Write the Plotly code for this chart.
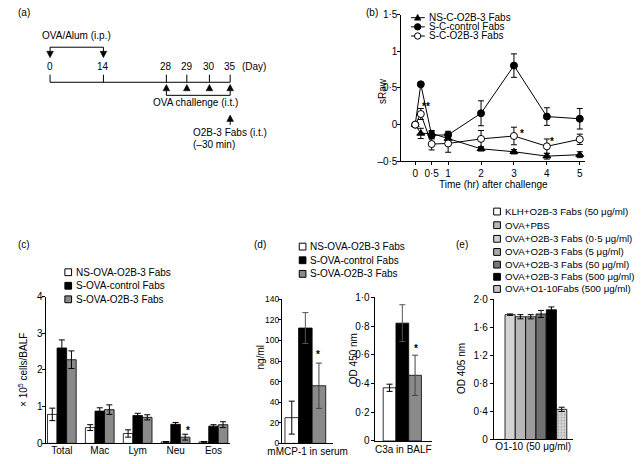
import plotly.graph_objects as go

# ---------------- data ----------------
# (a) protocol schedule (days)
sched_days = ["0", "14", "28", "29", "30", "35"]

# (b) sRaw time course
time_hr = [0, 0.17, 0.5, 1, 2, 3, 4, 5]
time_ticks = [0, 0.5, 1, 2, 3, 4, 5]
time_ticktext = ["0", "0·5", "1", "2", "3", "4", "5"]
ns_c_o2b3 = [0, -0.12, -0.12, -0.19, -0.33, -0.37, -0.43, -0.41]
ns_c_o2b3_err = [0, 0.07, 0.04, 0.04, 0.03, 0.03, 0.04, 0.04]
s_c_control = [0, 0.55, -0.145, -0.14, 0.155, 0.805, 0.11, 0.08]
s_c_control_err = [0, 0.02, 0.05, 0.05, 0.17, 0.16, 0.12, 0.14]
s_c_o2b3 = [0, 0.145, -0.265, -0.257, -0.195, -0.155, -0.296, -0.2]
s_c_o2b3_err = [0, 0.075, 0.08, 0.12, 0.115, 0.12, 0.1, 0.07]
b_names = ["NS-C-O2B-3 Fabs", "S-C-control Fabs", "S-C-O2B-3 Fabs"]
sraw_ticks = [-0.5, 0, 0.5, 1, 1.5]
sraw_ticktext = ["–0·5", "0", "0·5", "1", "1·5"]

# (c) BALF cells
cell_types = ["Total", "Mac", "Lym", "Neu", "Eos"]
c_ns = [0.79, 0.43, 0.27, 0.04, 0.04]
c_ns_err = [0.17, 0.08, 0.1, 0.01, 0.01]
c_ctrl = [2.6, 0.88, 0.76, 0.52, 0.47]
c_ctrl_err = [0.22, 0.09, 0.06, 0.05, 0.04]
c_o2b3 = [2.28, 0.92, 0.71, 0.17, 0.51]
c_o2b3_err = [0.24, 0.13, 0.07, 0.08, 0.08]
c_names = ["NS-OVA-O2B-3 Fabs", "S-OVA-control Fabs", "S-OVA-O2B-3 Fabs"]

# (d) mMCP-1 and C3a
d_names = ["NS-OVA-O2B-3 Fabs", "S-OVA-control Fabs", "S-OVA-O2B-3 Fabs"]
mmcp1 = [25, 112, 56]
mmcp1_err = [16, 15, 22]
c3a = [0.37, 0.82, 0.457]
c3a_err = [0.025, 0.128, 0.14]
c3a_ticks = [0, 0.2, 0.4, 0.6, 0.8, 1.0]
c3a_ticktext = ["0", "0·2", "0·4", "0·6", "0·8", "1·0"]

# (e) ELISA
e_names = ["KLH+O2B-3 Fabs (50 μg/ml)", "OVA+PBS", "OVA+O2B-3 Fabs (0·5 μg/ml)",
           "OVA+O2B-3 Fabs (5 μg/ml)", "OVA+O2B-3 Fabs (50 μg/ml)",
           "OVA+O2B-3 Fabs (500 μg/ml)", "OVA+O1-10Fabs (500 μg/ml)"]
e_od = [0, 1.78, 1.75, 1.75, 1.79, 1.85, 0.43]
e_err = [0, 0.01, 0.03, 0.03, 0.05, 0.04, 0.03]
e_ticks = [0, 0.4, 0.8, 1.2, 1.6, 2.0]
e_ticktext = ["0", "0·4", "0·8", "1·2", "1·6", "2·0"]

# ---------------- helpers ----------------
W, H = 644, 464
FONT = "Liberation Sans, Arial, Helvetica, sans-serif"


def X(p):
    return p / W


def Y(p):
    return 1 - p / H


def err(arr, color="black"):
    return dict(type="data", array=arr, visible=True, color=color, thickness=1, width=3)


fig = go.Figure()
shapes = []
annotations = []


def text(x, y, s, size=10, xanchor="left", yanchor="middle", angle=0, family=FONT):
    annotations.append(dict(x=X(x), y=Y(y), xref="paper", yref="paper", text=s, showarrow=False,
                            xanchor=xanchor, yanchor=yanchor, textangle=angle,
                            font=dict(size=size, color="#000000", family=family)))


def star(x, y, s="*"):
    text(x, y, "<b>" + s + "</b>", size=10, xanchor="center")


def line(x0, y0, x1, y1, w=1, color="black"):
    shapes.append(dict(type="line", xref="paper", yref="paper", x0=X(x0), y0=Y(y0), x1=X(x1), y1=Y(y1),
                       line=dict(color=color, width=w)))


def tri(cx, apex_y, base_y, w=7):
    p = "M {:.5f} {:.5f} L {:.5f} {:.5f} L {:.5f} {:.5f} Z".format(
        X(cx), Y(apex_y), X(cx - w / 2), Y(base_y), X(cx + w / 2), Y(base_y))
    shapes.append(dict(type="path", xref="paper", yref="paper", path=p,
                       fillcolor="black", line=dict(color="black", width=0.5)))


def square(cx, cy, fill, s=7):
    shapes.append(dict(type="rect", xref="paper", yref="paper", x0=X(cx - s / 2), x1=X(cx + s / 2),
                       y0=Y(cy + s / 2), y1=Y(cy - s / 2), fillcolor=fill, line=dict(color="black", width=1)))


def circle(cx, cy, fill, r=3.3):
    shapes.append(dict(type="circle", xref="paper", yref="paper", x0=X(cx - r), x1=X(cx + r),
                       y0=Y(cy + r), y1=Y(cy - r), fillcolor=fill, line=dict(color="black", width=1)))


# ---------------- (a) schematic ----------------
text(2, 7, "(a)")
day_px = [37.7, 93.5, 159.3, 180.7, 204.3, 226]
line(37.7, 78.3, 226, 78.3)
for d, px in zip(sched_days, day_px):
    line(px, 70.5, px, 78.3)
    text(px, 62.5, d, xanchor="center")
text(236, 62.5, "(Day)")
text(27, 30, "OVA/Alum (i.p.)")
line(day_px[0], 42.3, day_px[1], 42.3)
for px in day_px[:2]:
    line(px, 42.3, px, 47)
    tri(px, 53, 46.5)
for px in day_px[2:]:
    tri(px, 80.5, 87)
line(day_px[2], 91.7, day_px[5], 91.7)
line(day_px[2], 87, day_px[2], 91.7)
line(day_px[5], 87, day_px[5], 91.7)
text(190, 99.5, "OVA challenge (i.t.)", xanchor="center")
tri(day_px[5], 112, 118.5)
line(day_px[5], 118.5, day_px[5], 122)
text(185, 130, "O2B-3 Fabs (i.t.)")
text(185, 142, "(–30 min)")

# ---------------- (b) ----------------
text(366, 7, "(b)")
b_series = [(ns_c_o2b3, ns_c_o2b3_err, "triangle-up", "black"),
            (s_c_control, s_c_control_err, "circle", "black"),
            (s_c_o2b3, s_c_o2b3_err, "circle", "white")]
for (vals, errs, sym, fill), name in zip(b_series, b_names):
    fig.add_trace(go.Scatter(x=time_hr, y=vals, error_y=err(errs), mode="lines+markers", name=name,
                             line=dict(color="black", width=1),
                             marker=dict(symbol=sym, size=7, color=fill, line=dict(color="black", width=1)),
                             xaxis="x", yaxis="y", showlegend=False, hoverinfo="skip"))
for i, name in enumerate(b_names):
    ry = 12 + i * 9.4
    line(415, ry, 429.5, ry)
    if i == 0:
        tri(422, ry - 3.6, ry + 2.6)
    elif i == 1:
        circle(422, ry, "black")
    else:
        circle(422, ry, "white")
    text(431.5, ry - 0.6, name)
text(385, 87, "sRaw", xanchor="center", angle=-90)
text(501.5, 183, "Time (hr) after challenge", xanchor="center")
star(431, 103, "**")
star(531, 130.5)
star(562.5, 139)

# ---------------- (c) ----------------
text(2, 245, "(c)")
bw_c = 0.2525
c_series = [(c_ns, c_ns_err, "white"), (c_ctrl, c_ctrl_err, "black"), (c_o2b3, c_o2b3_err, "#8a8a8a")]
for k, ((vals, errs, fill), name) in enumerate(zip(c_series, c_names)):
    fig.add_trace(go.Bar(x=cell_types, y=vals, error_y=err(errs), name=name, width=bw_c,
                         offset=-0.379 + k * bw_c,
                         marker=dict(color=fill, line=dict(color="black", width=0.8)),
                         xaxis="x2", yaxis="y2", showlegend=False, hoverinfo="skip"))
    square(56.7, 273.3 + k * 13.9, fill)
    text(63, 273.3 + k * 13.9, name)
text(10, 374, "× 10<sup>5</sup> cells/BALF", xanchor="center", angle=-90)
star(181.7, 435.5)

# ---------------- (d) ----------------
text(249, 245, "(d)")
d_fills = ["white", "black", "#8a8a8a"]
d_errc = ["black", "#555555", "#444444"]
for k, name in enumerate(d_names):
    fig.add_trace(go.Bar(x=["mMCP-1 in serum"], y=[mmcp1[k]], error_y=err([mmcp1_err[k]], d_errc[k]),
                         name=name, width=0.263, offset=-0.439 + k * 0.263,
                         marker=dict(color=d_fills[k], line=dict(color="black", width=0.8)),
                         xaxis="x3", yaxis="y3", showlegend=False, hoverinfo="skip"))
    fig.add_trace(go.Bar(x=["C3a in BALF"], y=[c3a[k]], error_y=err([c3a_err[k]], d_errc[k]),
                         name=name, width=0.222, offset=-0.35 + k * 0.222,
                         marker=dict(color=d_fills[k], line=dict(color="black", width=0.8)),
                         xaxis="x4", yaxis="y4", showlegend=False, hoverinfo="skip"))
    square(301.7, 247 + k * 14, d_fills[k])
    text(307.5, 247 + k * 14, name)
text(258, 361, "ng/ml", xanchor="center", angle=-90)
text(355, 362, "OD 450 nm", xanchor="center", angle=-90)
star(318.3, 358)
star(420, 352)

# ---------------- (e) ----------------
text(460, 245, "(e)")
e_fills = ["white", "#d4d4d4", "#b8b8b8", "#9c9c9c", "#707070", "black", "#d8d8d8"]
e_leg = ["white", "#b8b8b8", "#cfcfcf", "#a8a8a8", "#787878", "black", "#c4c4c4"]
e_y = [211, 225, 239, 252.5, 265.5, 278, 290.5]
for k, name in enumerate(e_names):
    mk = dict(color=e_fills[k], line=dict(color="black", width=0.8))
    if k == 6:
        mk["pattern"] = dict(shape=".", fgcolor="#666666", bgcolor="#dcdcdc", size=3, solidity=0.35)
    fig.add_trace(go.Bar(x=["O1-10 (50 μg/ml)"], y=[e_od[k]], error_y=err([e_err[k]]), name=name,
                         width=0.129, offset=-0.49 + k * 0.1312, marker=mk,
                         xaxis="x5", yaxis="y5", showlegend=False, hoverinfo="skip"))
    square(505, e_y[k], e_leg[k])
    text(511.5, e_y[k], name, size=9.7)
text(468, 372, "OD 405 nm", xanchor="center", angle=-90)

# ---------------- axes ----------------
base = dict(showline=True, linecolor="black", linewidth=1, showgrid=False, zeroline=False,
            tickfont=dict(size=10, color="black", family=FONT), fixedrange=True)


def yt(standoff):
    return dict(ticks="outside", ticklen=3, tickcolor="black", tickwidth=1, ticklabelstandoff=standoff)


def xc(standoff=-2):
    return dict(type="category", ticks="", ticklabelstandoff=standoff)


layout_axes = dict(
    xaxis=dict(base, **yt(0), domain=[X(405), X(597)], range=[-0.42, 5.16], tickvals=time_ticks,
               ticktext=time_ticktext, anchor="y"),
    yaxis=dict(base, **yt(-2), domain=[Y(159.4), Y(8.9)], range=[-0.5, 1.5], tickvals=sraw_ticks,
               ticktext=sraw_ticktext, anchor="x"),
    xaxis2=dict(base, **xc(-2), domain=[X(33), X(226)], range=[-0.43, 4.44], anchor="y2"),
    yaxis2=dict(base, **yt(-3), domain=[Y(449), Y(298.3)], range=[0, 4], tickvals=[0, 1, 2, 3, 4], anchor="x2"),
    xaxis3=dict(base, **xc(-1), domain=[X(280), X(334)], range=[-0.5, 0.5], anchor="y3"),
    yaxis3=dict(base, **yt(-3), domain=[Y(449), Y(301)], range=[0, 140], tickvals=list(range(0, 141, 20)),
                anchor="x3"),
    xaxis4=dict(base, **xc(-1), domain=[X(377), X(437)], range=[-0.5, 0.5], anchor="y4"),
    yaxis4=dict(base, **yt(-1), domain=[Y(446.5), Y(299)], range=[0, 1.0], tickvals=c3a_ticks,
                ticktext=c3a_ticktext, anchor="x4"),
    xaxis5=dict(base, **xc(-2), domain=[X(501.7), X(584)], range=[-0.5, 0.5], anchor="y5"),
    yaxis5=dict(base, **yt(0), domain=[Y(445), Y(301)], range=[0, 2.0], tickvals=e_ticks, ticktext=e_ticktext,
                anchor="x5"),
)
layout_axes["yaxis3"]["tickfont"] = dict(size=8.5, color="black", family=FONT)

fig.update_layout(
    width=W, height=H, margin=dict(l=0, r=0, t=0, b=0),
    paper_bgcolor="white", plot_bgcolor="rgba(0,0,0,0)",
    font=dict(family=FONT, size=10, color="black"),
    barmode="overlay", showlegend=False,
    shapes=shapes, annotations=annotations,
    **layout_axes,
)

fig.write_html("out.html", config={"displayModeBar": False, "staticPlot": True},
               post_script="document.body.style.margin='0px';")
